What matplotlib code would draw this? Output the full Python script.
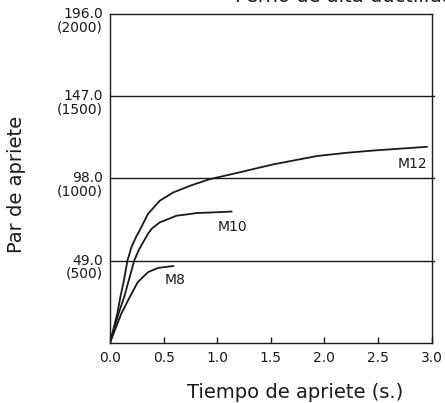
import matplotlib
matplotlib.use('Agg')
import matplotlib.pyplot as plt
import matplotlib.transforms as mtransforms

# tightening curves (time in s, torque in N·m)
m8_t = [0, 0.106, 0.193, 0.26, 0.355, 0.45, 0.56, 0.59]
m8_v = [0, 17.4, 28.3, 36.2, 42.1, 44.6, 45.5, 45.7]

m10_t = [0, 0.08, 0.137, 0.175, 0.226, 0.27, 0.353, 0.386, 0.463, 0.53,
         0.619, 0.73, 0.806, 1.0, 1.133]
m10_v = [0, 17.4, 28.3, 37.2, 49, 55.5, 64.8, 67.8, 71.7, 73.4,
         75.7, 76.6, 77.3, 77.8, 78.2]

m12_t = [0, 0.068, 0.1, 0.13, 0.163, 0.2, 0.246, 0.276, 0.353, 0.463, 0.587,
         0.743, 0.93, 1.21, 1.52, 1.93, 2.2, 2.46, 2.955]
m12_v = [0, 17.4, 28.3, 37.2, 49, 57, 63.5, 66.8, 76.7, 84.6, 89.5,
         93.5, 97.5, 101.6, 106.3, 111.3, 113.2, 114.6, 116.8]

x_ticks = [0.0, 0.5, 1.0, 1.5, 2.0, 2.5, 3.0]
y_ticks = [49.0, 98.0, 147.0, 196.0]
y_kgf = ['(500)', '(1000)', '(1500)', '(2000)']

curve_names = ['M8', 'M10', 'M12']
label_pos = [(0.607, 37.2), (1.145, 68.8), (2.82, 106.6)]

ink = '#1a1a1a'

fig = plt.figure(figsize=(4.45, 4.03), dpi=100)
ax = fig.add_axes([0.2472, 0.1496, 0.7228, 0.8157])

ax.plot(m8_t, m8_v, color=ink, lw=1.3, solid_joinstyle='round')
ax.plot(m10_t, m10_v, color=ink, lw=1.3, solid_joinstyle='round')
ax.plot(m12_t, m12_v, color=ink, lw=1.3, solid_joinstyle='round')

for name, (lx, ly) in zip(curve_names, label_pos):
    ax.text(lx, ly, name, ha='center', va='center', fontsize=10, color=ink)

# horizontal reference lines, slightly past the right frame
for v in y_ticks[:-1]:
    ax.axhline(v, xmin=0, xmax=1.006, color=ink, lw=1.0, clip_on=False)

ax.set_xlim(0, 3.0)
ax.set_ylim(0, 196.0)
ax.set_xticks(x_ticks)
ax.set_xticklabels([f'{t:.1f}' for t in x_ticks], fontsize=10, color=ink)
ax.tick_params(axis='x', direction='in', length=4, width=1, color=ink, pad=6)
ax.set_yticks([])

# two-line y tick labels: N·m on the tick, kgf·cm underneath
trans = mtransforms.blended_transform_factory(ax.transAxes, ax.transData)
for v, k in zip(y_ticks, y_kgf):
    ax.annotate(f'{v:.1f}', xy=(0, v), xycoords=trans, xytext=(-5, 0),
                textcoords='offset points', ha='right', va='center',
                fontsize=10, color=ink)
    ax.annotate(k, xy=(0, v), xycoords=trans, xytext=(-5, -9.6),
                textcoords='offset points', ha='right', va='center',
                fontsize=10, color=ink)

for s in ax.spines.values():
    s.set_color(ink)
    s.set_linewidth(1.0)

fig.text(17 / 445, 1 - 184 / 403, 'Par de apriete', rotation=90,
         ha='center', va='center', fontsize=14, color=ink)
fig.text(295.5 / 445, 1 - 392 / 403, 'Tiempo de apriete (s.)',
         ha='center', va='center', fontsize=14, color=ink)
# title sits partly above the canvas, as in the reference
fig.text(235 / 445, 1 - 1.5 / 403, 'Perno de alta ductilidad',
         ha='left', va='baseline', fontsize=14, color=ink)

fig.savefig('out.png', dpi=100)
